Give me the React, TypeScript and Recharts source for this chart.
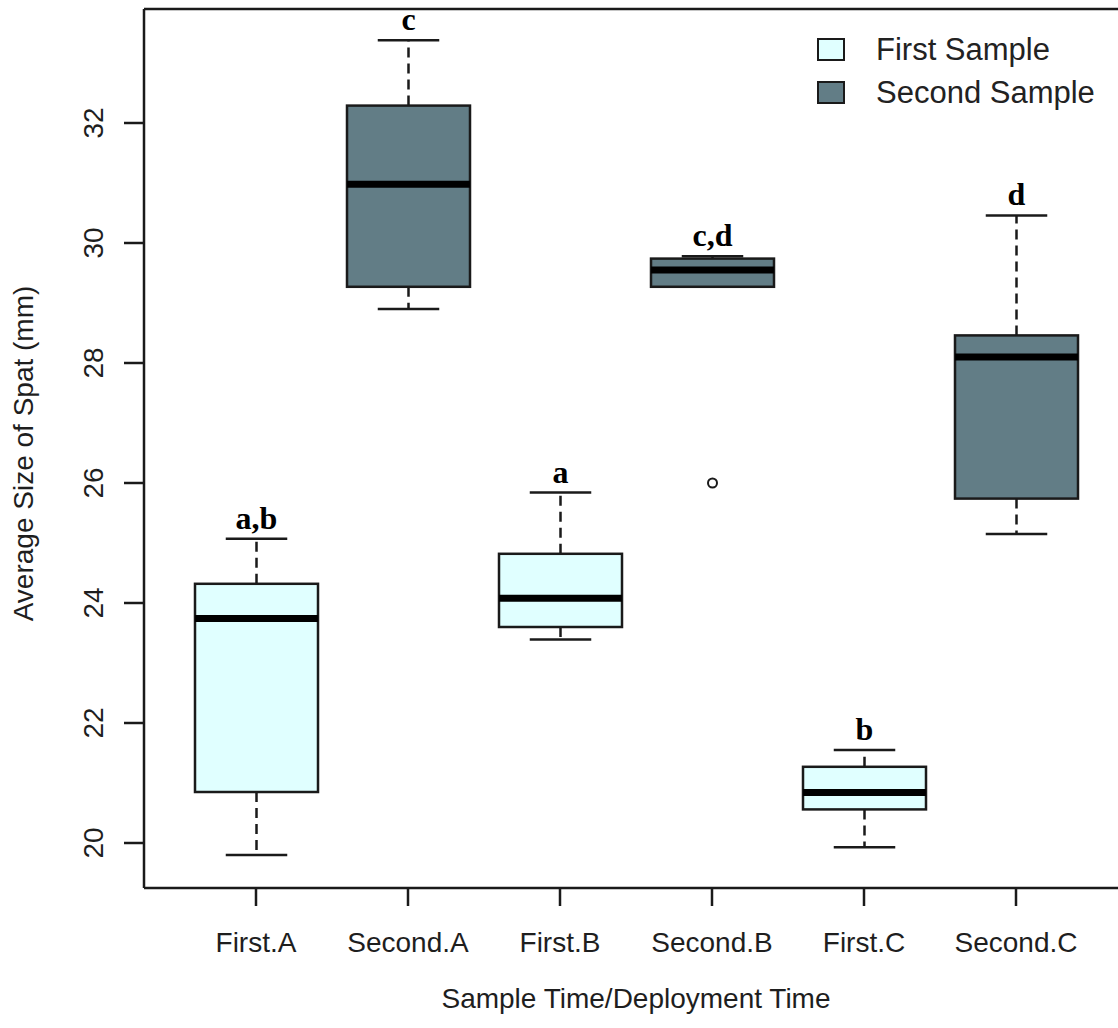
import { ComposedChart, Bar, XAxis, YAxis, Legend, ReferenceLine } from 'recharts';

const categories = ['First.A', 'Second.A', 'First.B', 'Second.B', 'First.C', 'Second.C'];
const sampleGroup = ['first', 'second', 'first', 'second', 'first', 'second'];
const whiskerLow = [19.8, 28.9, 23.39, 29.27, 19.93, 25.15];
const lowerQuartile = [20.85, 29.27, 23.6, 29.27, 20.56, 25.74];
const medians = [23.74, 30.98, 24.08, 29.55, 20.84, 28.1];
const upperQuartile = [24.32, 32.29, 24.82, 29.74, 21.27, 28.46];
const whiskerHigh = [25.07, 33.38, 25.84, 29.78, 21.55, 30.46];
const outliers: number[][] = [[], [], [], [26.0], [], []];
const groupLetters = ['a,b', 'c', 'a', 'c,d', 'b', 'd'];
const yTicks = [20, 22, 24, 26, 28, 30, 32];
const legendGroups = ['first', 'second'];
const legendNames = ['First Sample', 'Second Sample'];

const Y_DOMAIN: [number, number] = [19.25, 33.9];

const FILLS: Record<string, string> = {
  first: '#E0FFFF',
  second: '#627D86',
};
const INK = '#1a1a1a';
const SANS = '"Liberation Sans", Arial, sans-serif';
const SERIF = '"Liberation Serif", "Times New Roman", serif';

const data = categories.map((name, i) => ({
  name,
  group: sampleGroup[i],
  low: whiskerLow[i],
  q1: lowerQuartile[i],
  median: medians[i],
  q3: upperQuartile[i],
  high: whiskerHigh[i],
  outliers: outliers[i],
  letter: groupLetters[i],
  span: [Math.min(whiskerLow[i], ...outliers[i]), Math.max(whiskerHigh[i], ...outliers[i])],
}));

function BoxShape(props: any) {
  const { x, y, width, height } = props;
  const d = props.payload ?? props;
  const top = Math.min(y, y + height);
  const bottom = Math.max(y, y + height);
  const [lo, hi] = d.span;
  // map a value onto the pixel span the bar was given by the y scale
  const toY = (v: number) => bottom - ((v - lo) / (hi - lo)) * (bottom - top);
  const cx = x + width / 2;
  const cap = width / 4;
  const yQ1 = toY(d.q1);
  const yQ3 = toY(d.q3);
  const yHigh = toY(d.high);
  const yLow = toY(d.low);

  return (
    <g>
      <line x1={cx} x2={cx} y1={yQ3} y2={yHigh} stroke={INK} strokeWidth={2.5} strokeDasharray="10 6" />
      <line x1={cx} x2={cx} y1={yQ1} y2={yLow} stroke={INK} strokeWidth={2.5} strokeDasharray="10 6" />
      <line x1={cx - cap} x2={cx + cap} y1={yHigh} y2={yHigh} stroke={INK} strokeWidth={2.5} />
      <line x1={cx - cap} x2={cx + cap} y1={yLow} y2={yLow} stroke={INK} strokeWidth={2.5} />
      <rect x={x} y={yQ3} width={width} height={yQ1 - yQ3} fill={FILLS[d.group]} stroke={INK} strokeWidth={2.5} />
      <line x1={x} x2={x + width} y1={toY(d.median)} y2={toY(d.median)} stroke="#000" strokeWidth={7} />
      {d.outliers.map((v: number, k: number) => (
        <circle key={k} cx={cx} cy={toY(v)} r={4.5} fill="none" stroke={INK} strokeWidth={2} />
      ))}
      <text x={cx} y={yHigh - 10} textAnchor="middle" fontFamily={SERIF} fontWeight="bold" fontSize={32} fill="#000">
        {d.letter}
      </text>
    </g>
  );
}

function LegendBox() {
  return (
    <div>
      {legendGroups.map((g, i) => (
        <div key={g} style={{ display: 'flex', alignItems: 'center', height: 43 }}>
          <div
            style={{
              width: 28,
              height: 23,
              boxSizing: 'border-box',
              border: `2px solid ${INK}`,
              background: FILLS[g],
            }}
          />
          <span style={{ marginLeft: 31, fontFamily: SANS, fontSize: 31, lineHeight: '43px', color: '#222' }}>
            {legendNames[i]}
          </span>
        </div>
      ))}
    </div>
  );
}

export default function App() {
  return (
    <div style={{ position: 'absolute', left: 0, top: 0, width: 1118, height: 1028, overflow: 'hidden', background: '#fff' }}>
      <ComposedChart width={1140} height={1028} data={data} margin={{ top: 9, right: 12, bottom: 0, left: 0 }}>
        <XAxis
          dataKey="name"
          height={140}
          interval={0}
          padding={{ left: 36, right: 36 }}
          tickSize={18}
          axisLine={{ stroke: INK, strokeWidth: 2.5 }}
          tickLine={{ stroke: INK, strokeWidth: 2.5 }}
          tick={(p: any) => (
            <text x={p.x} y={p.y + 44} textAnchor="middle" fontFamily={SANS} fontSize={28} fill="#1e1e1e">
              {p.payload.value}
            </text>
          )}
          label={{
            content: (lp: any) => {
              const vb = lp.viewBox ?? { x: 144, y: 888, width: 984, height: 140 };
              return (
                <text x={vb.x + vb.width / 2} y={vb.y + 120} textAnchor="middle" fontFamily={SANS} fontSize={28} fill="#1e1e1e">
                  Sample Time/Deployment Time
                </text>
              );
            },
          }}
        />
        <YAxis
          type="number"
          domain={Y_DOMAIN}
          allowDataOverflow
          ticks={yTicks}
          width={144}
          tickSize={20}
          axisLine={{ stroke: INK, strokeWidth: 2.5 }}
          tickLine={{ stroke: INK, strokeWidth: 2.5 }}
          tick={(p: any) => (
            <text
              transform={`translate(${p.x - 19}, ${p.y}) rotate(-90)`}
              textAnchor="middle"
              fontFamily={SANS}
              fontSize={28}
              fill="#1e1e1e"
            >
              {p.payload.value}
            </text>
          )}
          label={{
            content: (lp: any) => {
              const vb = lp.viewBox ?? { x: 0, y: 9, width: 144, height: 879 };
              return (
                <text
                  transform={`translate(33, ${vb.y + vb.height / 2 + 5}) rotate(-90)`}
                  textAnchor="middle"
                  fontFamily={SANS}
                  fontSize={28}
                  fill="#1e1e1e"
                >
                  Average Size of Spat (mm)
                </text>
              );
            },
          }}
        />
        {/* top edge of the plot frame */}
        <ReferenceLine y={Y_DOMAIN[1]} stroke={INK} strokeWidth={2.5} />
        <Legend
          layout="vertical"
          align="center"
          verticalAlign="middle"
          wrapperStyle={{ left: 817, top: 28, width: 300 }}
          content={() => <LegendBox />}
        />
        <Bar dataKey="span" barSize={123} shape={<BoxShape />} isAnimationActive={false} />
      </ComposedChart>
    </div>
  );
}
